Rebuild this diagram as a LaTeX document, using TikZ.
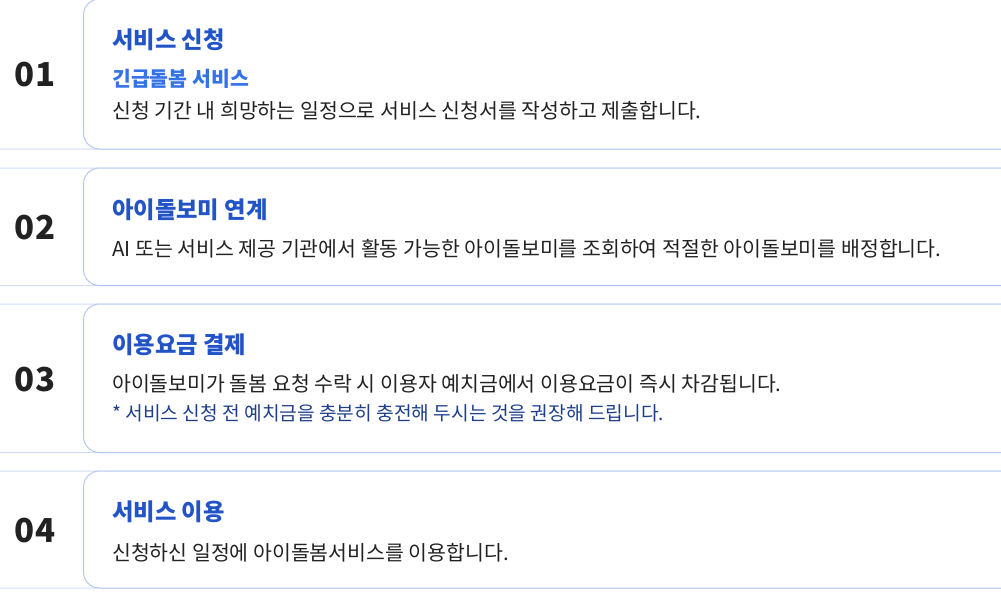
\documentclass[tikz,border=0pt]{standalone}
\usepackage{fontspec}
\setmainfont{Noto Sans CJK KR}
\definecolor{rowline}{HTML}{D3DEF5}
\definecolor{cardline}{HTML}{B4C9F2}
\definecolor{titleblue}{HTML}{2254C8}
\definecolor{subblue}{HTML}{3472E8}
\definecolor{noteblue}{HTML}{1F3F8C}
\definecolor{bodytext}{HTML}{222222}
\tikzset{
  rowframe/.style={draw=rowline, fill=white, line width=1pt, rounded corners=6pt},
  stepcard/.style={draw=cardline, fill=white, line width=1pt, rounded corners=16pt},
  stepnum/.style={font=\fontsize{33}{36}\selectfont\bfseries, text=bodytext},
  steptitle/.style={anchor=base west, inner sep=0pt, text=titleblue, font=\fontsize{23.3}{28}\selectfont\bfseries},
  stepsub/.style={anchor=base west, inner sep=0pt, text=subblue, font=\fontsize{20.5}{24}\selectfont\bfseries},
  stepdesc/.style={anchor=base west, inner sep=0pt, text=bodytext, font=\fontsize{20.5}{24}\selectfont},
  stepnote/.style={anchor=base west, inner sep=0pt, text=noteblue, font=\fontsize{19.2}{23}\selectfont}
}

\begin{document}
\begin{tikzpicture}[x=1pt, y=-1pt]
\useasboundingbox[fill=white] (0,0) rectangle (1001,592);
\foreach \n/\t/\b in {01/-1/149, 02/168/285.5, 03/304/452.5, 04/471/588}{
\draw[rowframe] (-6,\t) rectangle (1012,\b);
\draw[stepcard] (83.5,\t) rectangle (1030,\b);
\node[stepnum] (num\n) at (35,{(\t+\b)/2+1}) {\n};
}
% 01
\node[steptitle] (title1) at (112,48) {서비스 신청};
\node[stepsub] (sub1) at (112,86) {긴급돌봄 서비스};
\node[stepdesc] (desc1) at (112,118) {신청 기간 내 희망하는 일정으로 서비스 신청서를 작성하고 제출합니다.};
% 02
\node[steptitle] (title2) at (112,218) {아이돌보미 연계};
\node[stepdesc] (desc2) at (112,256) {AI 또는 서비스 제공 기관에서 활동 가능한 아이돌보미를 조회하여 적절한 아이돌보미를 배정합니다.};
% 03
\node[steptitle] (title3) at (112,353) {이용요금 결제};
\node[stepdesc] (desc3) at (112,391) {아이돌보미가 돌봄 요청 수락 시 이용자 예치금에서 이용요금이 즉시 차감됩니다.};
\node[stepnote] (note3) at (112,420) {* 서비스 신청 전 예치금을 충분히 충전해 두시는 것을 권장해 드립니다.};
% 04
\node[steptitle] (title4) at (112,520) {서비스 이용};
\node[stepdesc] (desc4) at (112,560) {신청하신 일정에 아이돌봄서비스를 이용합니다.};
\end{tikzpicture}
\end{document}
